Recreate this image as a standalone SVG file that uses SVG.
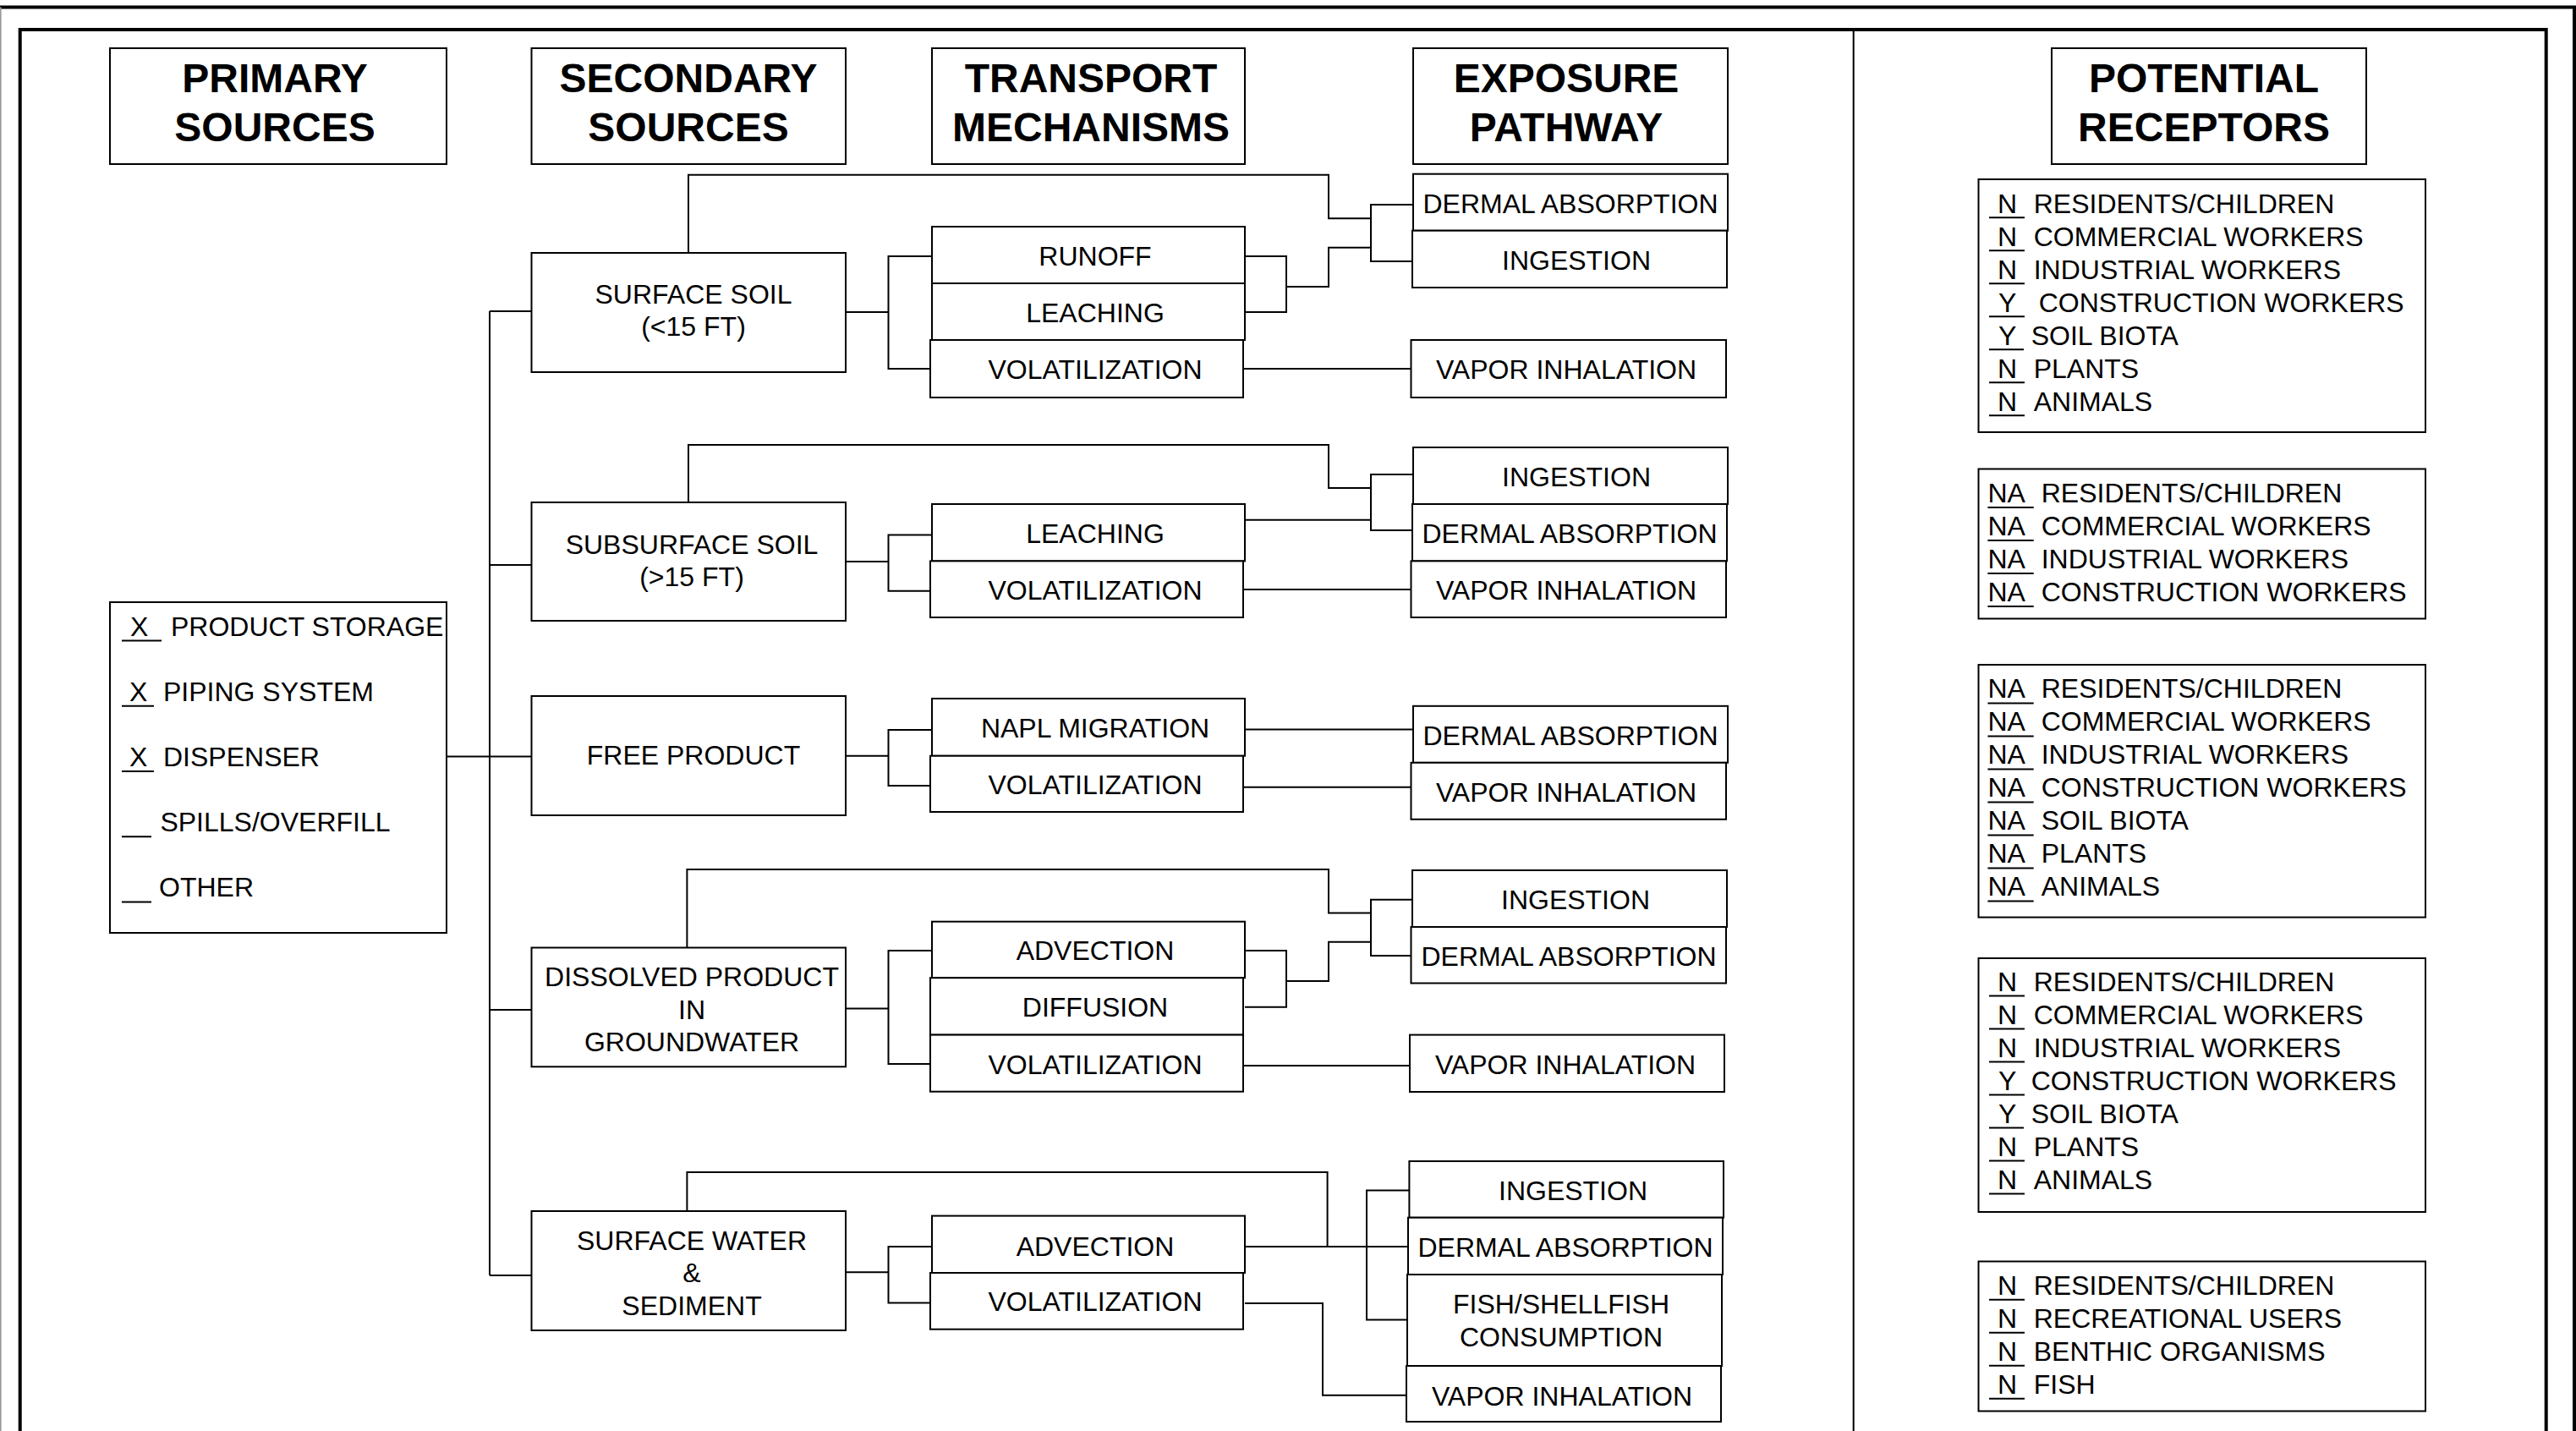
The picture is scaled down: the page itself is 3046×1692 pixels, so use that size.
<svg xmlns="http://www.w3.org/2000/svg" width="3046" height="1692" viewBox="0 0 3046 1692">
<style>
text{font-family:"Liberation Sans",Arial,sans-serif;fill:#000}
.h{font-size:48px;font-weight:bold;text-anchor:middle}
.t{font-size:32px;text-anchor:middle}
.l{font-size:32px}
.b{fill:#fff;stroke:#000;stroke-width:2}
.c{fill:none;stroke:#000;stroke-width:2}
.u{stroke:#000;stroke-width:2}
.f{fill:none;stroke:#000;stroke-width:4}
</style>
<rect width="3046" height="1692" fill="#fff"/>
<g id="frame">
<line x1="0" y1="8.5" x2="3046" y2="8.5" class="f"/>
<line x1="3044" y1="8.5" x2="3044" y2="1692" class="f"/>
<line x1="0.8" y1="8.5" x2="0.8" y2="1692" stroke="#999" stroke-width="1.6"/>
<path d="M23.7,1692 V35 H3010.7 V1692" class="f"/>
<line x1="2191.7" y1="35" x2="2191.7" y2="1692" class="c"/>
</g>
<g id="connectors">
<path class="c" d="M579,368 V1508 M579,368 H628.5 M579,668 H628.5 M579,1194 H628.5 M579,1508 H628.5 M528,894.5 H628.5"/>
<path class="c" d="M814,299 V206.7 H1571 V258.3 H1621 M1671,242 H1621 V309 H1670 M1621,292.7 H1571 V339 H1521 M1472,303 H1521 V369 H1472 M1000,369 H1050.5 M1102,303 H1050.5 V436 H1102 M1470,436 H1669"/>
<path class="c" d="M814,594 V526 H1571 V577 H1621 M1671,561 H1621 V627 H1670 M1472,614.7 H1621 M1000,664 H1050.5 M1102,632.6 H1050.5 V698.7 H1102 M1470,697 H1669"/>
<path class="c" d="M1000,893.75 H1050.5 M1102,863 H1050.5 V929 H1102 M1472,862.5 H1671 M1470,930.8 H1669"/>
<path class="c" d="M812.4,1120.5 V1028 H1571 V1079.5 H1621 M1670,1063.8 H1621 V1130 H1669 M1621,1113.8 H1571 V1160 H1521 M1472,1124 H1521 V1190.8 H1472 M1000,1192.5 H1050.5 M1102,1124 H1050.5 V1258 H1102 M1470,1260 H1667"/>
<path class="c" d="M812.4,1432 V1386 H1569.6 V1474 M1472,1474 H1665 M1666,1407.5 H1616 V1560.6 H1664 M1472,1541 H1564 V1649.8 H1663 M1000,1504.3 H1050.5 M1102,1474 H1050.5 V1540.6 H1102"/>
</g>
<g id="hdr-primary"><rect class="b" x="130" y="57" width="398" height="137"/><text class="h" x="325" y="109">PRIMARY</text><text class="h" x="325" y="167">SOURCES</text></g>
<g id="hdr-secondary"><rect class="b" x="628.5" y="57" width="371.5" height="137"/><text class="h" x="814" y="109">SECONDARY</text><text class="h" x="814" y="167">SOURCES</text></g>
<g id="hdr-transport"><rect class="b" x="1102" y="57" width="370" height="137"/><text class="h" x="1290" y="109">TRANSPORT</text><text class="h" x="1290" y="167">MECHANISMS</text></g>
<g id="hdr-exposure"><rect class="b" x="1671" y="57" width="372" height="137"/><text class="h" x="1852" y="109">EXPOSURE</text><text class="h" x="1852" y="167">PATHWAY</text></g>
<g id="hdr-receptors"><rect class="b" x="2426" y="57" width="372" height="137"/><text class="h" x="2606" y="109">POTENTIAL</text><text class="h" x="2606" y="167">RECEPTORS</text></g>
<g id="primary-sources">
<rect class="b" x="130" y="712" width="398" height="391"/>
<text class="l" x="154" y="751.5">X</text><line class="u" x1="144" y1="757.6" x2="191" y2="757.6"/><text class="l" x="202" y="751.5">PRODUCT STORAGE</text>
<text class="l" x="153" y="828.7">X</text><line class="u" x1="144" y1="834.8" x2="182" y2="834.8"/><text class="l" x="193" y="828.7">PIPING SYSTEM</text>
<text class="l" x="153" y="905.9">X</text><line class="u" x1="144" y1="912" x2="182" y2="912"/><text class="l" x="193" y="905.9">DISPENSER</text>
<line class="u" x1="144" y1="989.2" x2="179" y2="989.2"/><text class="l" x="189.4" y="983.1">SPILLS/OVERFILL</text>
<line class="u" x1="144" y1="1066.4" x2="179" y2="1066.4"/><text class="l" x="188" y="1060.3">OTHER</text>
</g>
<g id="surface-soil"><rect class="b" x="628.5" y="299" width="371.5" height="141"/><text class="t" x="820" y="359">SURFACE SOIL</text><text class="t" x="820" y="397">(&lt;15 FT)</text></g>
<g id="subsurface-soil"><rect class="b" x="628.5" y="594" width="371.5" height="140"/><text class="t" x="818" y="655">SUBSURFACE SOIL</text><text class="t" x="818" y="693">(&gt;15 FT)</text></g>
<g id="free-product"><rect class="b" x="628.5" y="823" width="371.5" height="141"/><text class="t" x="820" y="904">FREE PRODUCT</text></g>
<g id="dissolved-product"><rect class="b" x="628.5" y="1120.5" width="371.5" height="140.8"/><text class="t" x="818" y="1166">DISSOLVED PRODUCT</text><text class="t" x="818" y="1204.6">IN</text><text class="t" x="818" y="1242.6">GROUNDWATER</text></g>
<g id="surface-water"><rect class="b" x="628.5" y="1432" width="371.5" height="141"/><text class="t" x="818" y="1477.7">SURFACE WATER</text><text class="t" x="818" y="1516.4">&amp;</text><text class="t" x="818" y="1555">SEDIMENT</text></g>
<g id="ss-runoff"><rect class="b" x="1102" y="268" width="370" height="67"/><text class="t" x="1295" y="314">RUNOFF</text></g>
<g id="ss-leaching"><rect class="b" x="1102" y="335" width="370" height="67"/><text class="t" x="1295" y="381">LEACHING</text></g>
<g id="ss-volatilization"><rect class="b" x="1100" y="402" width="370" height="68"/><text class="t" x="1295" y="448">VOLATILIZATION</text></g>
<g id="sub-leaching"><rect class="b" x="1102" y="596" width="370" height="67.4"/><text class="t" x="1295" y="642">LEACHING</text></g>
<g id="sub-volatilization"><rect class="b" x="1100" y="663.4" width="370" height="66.6"/><text class="t" x="1295" y="709">VOLATILIZATION</text></g>
<g id="fp-napl"><rect class="b" x="1102" y="826" width="370" height="67.75"/><text class="t" x="1295" y="872">NAPL MIGRATION</text></g>
<g id="fp-volatilization"><rect class="b" x="1100" y="893.75" width="370" height="66.25"/><text class="t" x="1295" y="939">VOLATILIZATION</text></g>
<g id="dp-advection"><rect class="b" x="1102" y="1089.7" width="370" height="66.5"/><text class="t" x="1295" y="1135">ADVECTION</text></g>
<g id="dp-diffusion"><rect class="b" x="1100" y="1156.2" width="370" height="67.4"/><text class="t" x="1295" y="1202">DIFFUSION</text></g>
<g id="dp-volatilization"><rect class="b" x="1100" y="1223.6" width="370" height="67.1"/><text class="t" x="1295" y="1270">VOLATILIZATION</text></g>
<g id="sw-advection"><rect class="b" x="1102" y="1437.6" width="370" height="67.4"/><text class="t" x="1295" y="1484.6">ADVECTION</text></g>
<g id="sw-volatilization"><rect class="b" x="1100" y="1505" width="370" height="66.7"/><text class="t" x="1295" y="1550">VOLATILIZATION</text></g>
<g id="ss-dermal"><rect class="b" x="1671" y="205.7" width="372" height="67"/><text class="t" x="1857" y="251.7">DERMAL ABSORPTION</text></g>
<g id="ss-ingestion"><rect class="b" x="1670" y="272.7" width="372" height="67.3"/><text class="t" x="1864" y="319">INGESTION</text></g>
<g id="ss-vapor"><rect class="b" x="1668.5" y="402" width="372.5" height="68"/><text class="t" x="1852" y="448">VAPOR INHALATION</text></g>
<g id="sub-ingestion"><rect class="b" x="1671" y="529" width="372" height="67"/><text class="t" x="1864" y="575">INGESTION</text></g>
<g id="sub-dermal"><rect class="b" x="1670" y="596" width="372" height="67.4"/><text class="t" x="1856" y="642">DERMAL ABSORPTION</text></g>
<g id="sub-vapor"><rect class="b" x="1668.5" y="663.4" width="372.5" height="66.6"/><text class="t" x="1852" y="709">VAPOR INHALATION</text></g>
<g id="fp-dermal"><rect class="b" x="1671" y="834.8" width="372" height="67"/><text class="t" x="1857" y="881">DERMAL ABSORPTION</text></g>
<g id="fp-vapor"><rect class="b" x="1668.5" y="901.8" width="372.5" height="66.95"/><text class="t" x="1852" y="948">VAPOR INHALATION</text></g>
<g id="dp-ingestion"><rect class="b" x="1670" y="1029" width="372" height="67"/><text class="t" x="1863" y="1075">INGESTION</text></g>
<g id="dp-dermal"><rect class="b" x="1668.5" y="1096" width="372.5" height="66.5"/><text class="t" x="1855" y="1142">DERMAL ABSORPTION</text></g>
<g id="dp-vapor"><rect class="b" x="1667" y="1223.6" width="372" height="67.4"/><text class="t" x="1851" y="1270">VAPOR INHALATION</text></g>
<g id="sw-ingestion"><rect class="b" x="1666.4" y="1373" width="371.6" height="66.7"/><text class="t" x="1860" y="1419">INGESTION</text></g>
<g id="sw-dermal"><rect class="b" x="1665" y="1439.7" width="372" height="67.3"/><text class="t" x="1851" y="1486">DERMAL ABSORPTION</text></g>
<g id="sw-fish"><rect class="b" x="1664" y="1507" width="372" height="108"/><text class="t" x="1846" y="1552.7">FISH/SHELLFISH</text><text class="t" x="1846" y="1591.7">CONSUMPTION</text></g>
<g id="sw-vapor"><rect class="b" x="1663" y="1615" width="372" height="66"/><text class="t" x="1847" y="1661.6">VAPOR INHALATION</text></g>
<g id="receptors-ss">
<rect class="b" x="2339.5" y="212" width="528.5" height="299"/>
<g class="t"><text class="t" x="2373.6" y="251.8">N</text><text class="t" x="2373.6" y="290.8">N</text><text class="t" x="2373.6" y="329.8">N</text><text class="t" x="2373.6" y="368.8">Y</text><text class="t" x="2373.6" y="407.8">Y</text><text class="t" x="2373.6" y="446.8">N</text><text class="t" x="2373.6" y="485.8">N</text></g>
<path class="u" d="M2352,257.3 H2394 M2352,296.3 H2394 M2352,335.3 H2394 M2352,374.3 H2394 M2352,413.3 H2393 M2352,452.3 H2394 M2352,491.3 H2394"/>
<text class="l" x="2404.7" y="251.8">RESIDENTS/CHILDREN</text><text class="l" x="2404.7" y="290.8">COMMERCIAL WORKERS</text><text class="l" x="2404.7" y="329.8">INDUSTRIAL WORKERS</text><text class="l" x="2410.7" y="368.8">CONSTRUCTION WORKERS</text><text class="l" x="2401.7" y="407.8">SOIL BIOTA</text><text class="l" x="2404.7" y="446.8">PLANTS</text><text class="l" x="2404.7" y="485.8">ANIMALS</text>
</g>
<g id="receptors-sub">
<rect class="b" x="2339.5" y="554.5" width="528.5" height="177"/>
<text class="l" x="2350.4" y="593.6">NA</text><text class="l" x="2350.4" y="632.6">NA</text><text class="l" x="2350.4" y="671.6">NA</text><text class="l" x="2350.4" y="710.6">NA</text>
<path class="u" d="M2350.4,600 H2404.7 M2350.4,639 H2404.7 M2350.4,678 H2404.7 M2350.4,717 H2404.7"/>
<text class="l" x="2413.7" y="593.6">RESIDENTS/CHILDREN</text><text class="l" x="2413.7" y="632.6">COMMERCIAL WORKERS</text><text class="l" x="2413.7" y="671.6">INDUSTRIAL WORKERS</text><text class="l" x="2413.7" y="710.6">CONSTRUCTION WORKERS</text>
</g>
<g id="receptors-fp">
<rect class="b" x="2339.5" y="786" width="528.5" height="298.6"/>
<text class="l" x="2350.4" y="825">NA</text><text class="l" x="2350.4" y="864">NA</text><text class="l" x="2350.4" y="903">NA</text><text class="l" x="2350.4" y="942">NA</text><text class="l" x="2350.4" y="981">NA</text><text class="l" x="2350.4" y="1020">NA</text><text class="l" x="2350.4" y="1059">NA</text>
<path class="u" d="M2350.4,831.4 H2404.7 M2350.4,870.4 H2404.7 M2350.4,909.4 H2404.7 M2350.4,948.4 H2404.7 M2350.4,987.4 H2404.7 M2350.4,1026.4 H2404.7 M2350.4,1065.4 H2404.7"/>
<text class="l" x="2413.7" y="825">RESIDENTS/CHILDREN</text><text class="l" x="2413.7" y="864">COMMERCIAL WORKERS</text><text class="l" x="2413.7" y="903">INDUSTRIAL WORKERS</text><text class="l" x="2413.7" y="942">CONSTRUCTION WORKERS</text><text class="l" x="2413.7" y="981">SOIL BIOTA</text><text class="l" x="2413.7" y="1020">PLANTS</text><text class="l" x="2413.7" y="1059">ANIMALS</text>
</g>
<g id="receptors-dp">
<rect class="b" x="2339.5" y="1133" width="528.5" height="300"/>
<text class="t" x="2373.6" y="1171.7">N</text><text class="t" x="2373.6" y="1210.7">N</text><text class="t" x="2373.6" y="1249.7">N</text><text class="t" x="2373.6" y="1288.7">Y</text><text class="t" x="2373.6" y="1327.7">Y</text><text class="t" x="2373.6" y="1366.7">N</text><text class="t" x="2373.6" y="1405.7">N</text>
<path class="u" d="M2352,1177.5 H2394 M2352,1216.5 H2394 M2352,1255.5 H2394 M2352,1294.5 H2394 M2352,1333.5 H2393 M2352,1372.5 H2394 M2352,1411.5 H2394"/>
<text class="l" x="2404.7" y="1171.7">RESIDENTS/CHILDREN</text><text class="l" x="2404.7" y="1210.7">COMMERCIAL WORKERS</text><text class="l" x="2404.7" y="1249.7">INDUSTRIAL WORKERS</text><text class="l" x="2401.7" y="1288.7">CONSTRUCTION WORKERS</text><text class="l" x="2401.7" y="1327.7">SOIL BIOTA</text><text class="l" x="2404.7" y="1366.7">PLANTS</text><text class="l" x="2404.7" y="1405.7">ANIMALS</text>
</g>
<g id="receptors-sw">
<rect class="b" x="2339.5" y="1491.5" width="528.5" height="177"/>
<text class="t" x="2373.6" y="1531">N</text><text class="t" x="2373.6" y="1570">N</text><text class="t" x="2373.6" y="1609">N</text><text class="t" x="2373.6" y="1648">N</text>
<path class="u" d="M2352,1536.8 H2394 M2352,1575.8 H2394 M2352,1614.8 H2394 M2352,1653.8 H2394"/>
<text class="l" x="2404.7" y="1531">RESIDENTS/CHILDREN</text><text class="l" x="2404.7" y="1570">RECREATIONAL USERS</text><text class="l" x="2404.7" y="1609">BENTHIC ORGANISMS</text><text class="l" x="2404.7" y="1648">FISH</text>
</g>
</svg>
